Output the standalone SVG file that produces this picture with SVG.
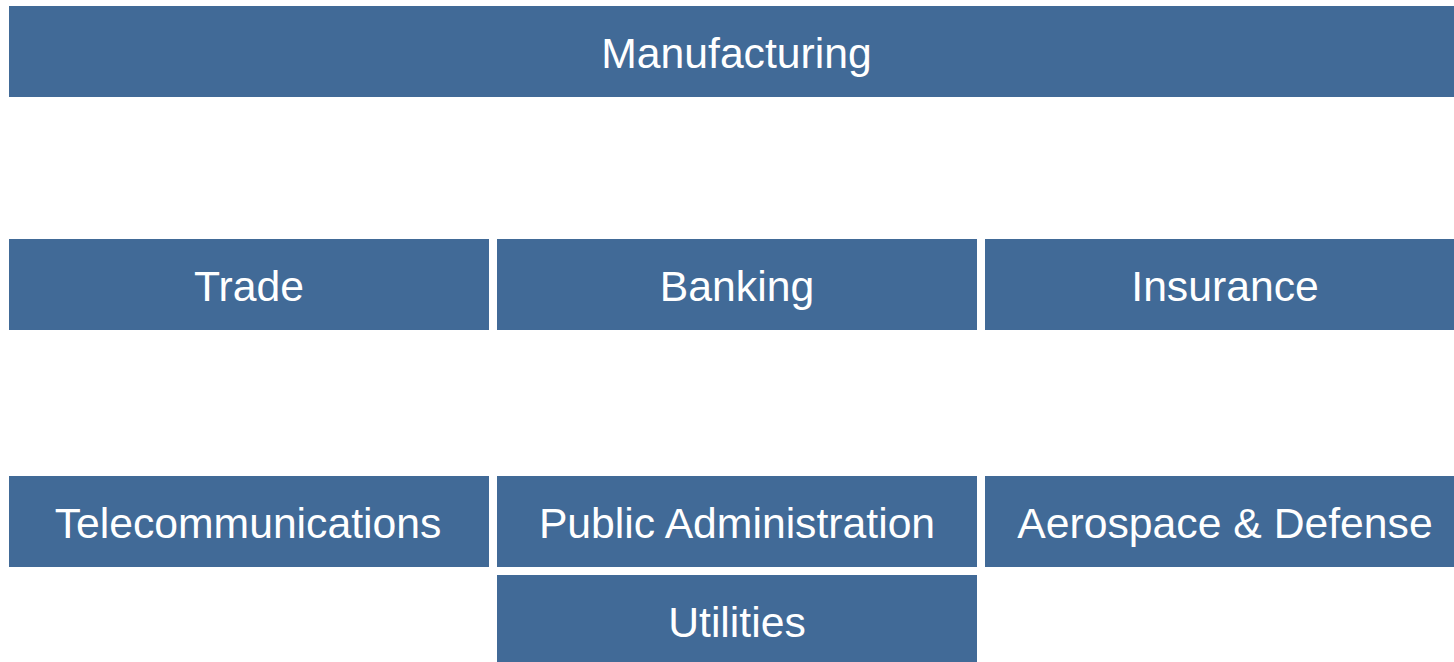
<svg xmlns="http://www.w3.org/2000/svg" width="1454" height="662" viewBox="0 0 1454 662">
<style>
.b{fill:#416A97}
.t{fill:#FFFFFF;font-family:"Liberation Sans",Arial,sans-serif;font-size:42.7px;text-anchor:middle;dominant-baseline:central}
</style>
<rect width="1454" height="662" fill="#FFFFFF"/>
<g id="connectors"/>
<g id="manufacturing"><rect class="b" x="9" y="6" width="1445" height="91"/><text class="t" x="736.5" y="53">Manufacturing</text></g>
<g id="trade"><rect class="b" x="9" y="239" width="480" height="91"/><text class="t" x="249" y="286">Trade</text></g>
<g id="banking"><rect class="b" x="497" y="239" width="480" height="91"/><text class="t" x="737" y="286">Banking</text></g>
<g id="insurance"><rect class="b" x="985" y="239" width="469" height="91"/><text class="t" x="1225" y="286">Insurance</text></g>
<g id="telecommunications"><rect class="b" x="9" y="476" width="480" height="91"/><text class="t" x="248" y="523">Telecommunications</text></g>
<g id="public-administration"><rect class="b" x="497" y="476" width="480" height="91"/><text class="t" x="737" y="523">Public Administration</text></g>
<g id="aerospace-defense"><rect class="b" x="985" y="476" width="469" height="91"/><text class="t" x="1225" y="523">Aerospace &amp; Defense</text></g>
<g id="utilities"><rect class="b" x="497" y="575" width="480" height="87"/><text class="t" x="737" y="622">Utilities</text></g>
</svg>
